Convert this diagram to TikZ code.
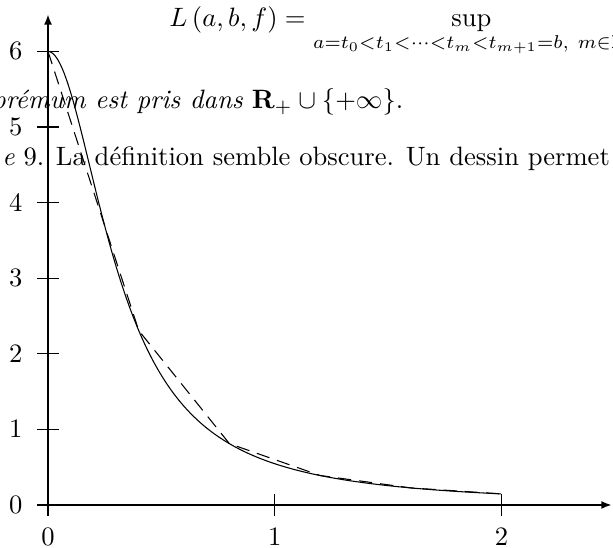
\documentclass[tikz,border=0pt]{standalone}
\usepackage{amsmath,amssymb}
\usetikzlibrary{arrows.meta}
\begin{document}
\begin{tikzpicture}[x=1cm,y=1cm,
  axis/.style={line width=0.8pt,-{Latex[length=4pt,width=3pt]}},
  tickmark/.style={line width=0.4pt},
  ylab/.style={anchor=east,inner sep=0pt},
  xlab/.style={anchor=north,inner sep=0pt},
  txt/.style={anchor=base west,inner sep=0pt},
  curve/.style={line width=0.4pt},
  approx/.style={line width=0.4pt,dash pattern=on 5pt off 3pt}]
\useasboundingbox (-0.635,-0.569) rectangle (7.474,6.680);
\clip (-0.635,-0.569) rectangle (7.474,6.680);

% surrounding text (cut by the frame, as in the reference)
\node[txt] (eq) at (1.60,6.335) {$\displaystyle L\left(a,b,f\right)=\sup_{a=t_0<t_1<\cdots<t_m<t_{m+1}=b,\ m\in\mathbf{N}}$};
\node[txt] (l2) at (-0.745,5.24) {\textit{prémum est pris dans} $\mathbf{R}_+\cup\{+\infty\}$.};
\node[txt] (l3) at (-0.612,4.497) {\textit{e} 9. La définition semble obscure. Un dessin permet};

% axes
\coordinate (xs) at (-0.145,0);
\coordinate (xe) at (7.46,0);
\coordinate (ys) at (0,-0.145);
\coordinate (ye) at (0,6.495);
\draw[axis] (xs) -- (xe);
\draw[axis] (ys) -- (ye);

% ticks and labels
\foreach \i in {0,1,2} {
  \draw[tickmark] (3*\i,-4pt) -- (3*\i,4pt);
  \node[xlab] (x\i) at (3*\i,-0.304) {$\i$};
}
\foreach \j in {0,...,6} {
  \draw[tickmark] (-4pt,\j) -- (4pt,\j);
  \node[ylab] (y\j) at (-0.331,\j) {$\j$};
}

% function and polygonal approximation
\draw[curve] plot[domain=0:2,samples=200,smooth] ({3*\x},{6/(1+10*\x*\x)});
\draw[approx] plot[domain=0:2,samples=6] ({3*\x},{6/(1+10*\x*\x)});
\end{tikzpicture}
\end{document}
